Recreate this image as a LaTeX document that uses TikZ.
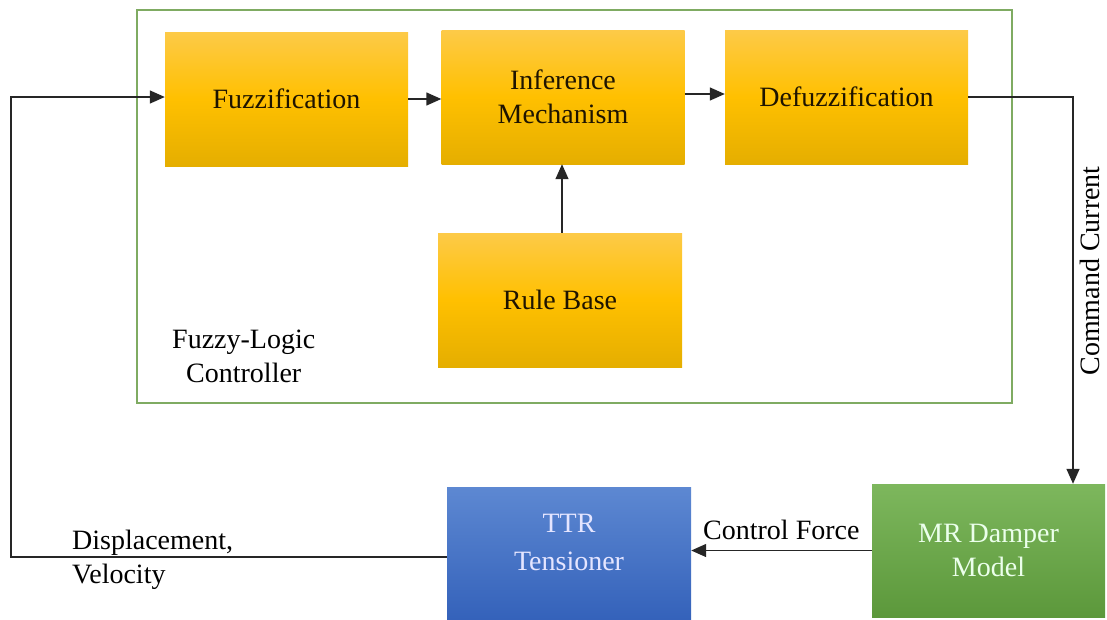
\documentclass[tikz,border=0pt]{standalone}
\usepackage{fontspec}
\setmainfont{Liberation Serif}
\usetikzlibrary{arrows.meta}
\definecolor{ytop}{HTML}{FDCA48}
\definecolor{ymid}{HTML}{FFC000}
\definecolor{ybot}{HTML}{E5AE00}
\definecolor{btop}{HTML}{5D88D2}
\definecolor{bbot}{HTML}{2F5DB7}
\definecolor{gtop}{HTML}{7DB75D}
\definecolor{gbot}{HTML}{5C983B}
\definecolor{frame}{HTML}{7FAB62}
\definecolor{ink}{HTML}{1E1400}
\tikzset{
  lbl/.style={font=\fontsize{28}{34}\selectfont, align=center},
  yblock/.style={lbl, text=ink, minimum width=243pt, minimum height=134pt,
    top color=ytop, bottom color=ybot, middle color=ymid, inner sep=0pt},
  bblock/.style={minimum width=244pt, minimum height=150pt,
    top color=btop, bottom color=bbot, inner sep=0pt},
  gblock/.style={lbl, text=white!92!green, minimum width=233pt, minimum height=133pt,
    top color=gtop, bottom color=gbot, inner sep=0pt},
  wire/.style={line width=1.4pt, draw=black!85},
  arr/.style={wire, -{Triangle[length=15pt,width=13pt]}},
}
\begin{document}
\begin{tikzpicture}[x=1pt,y=-1pt]
  \useasboundingbox (0,0) rectangle (1107,619);
  % controller frame
  \node[draw=frame, line width=2.4pt, minimum width=875pt, minimum height=393pt, inner sep=0pt]
    (flc) at (574.5,206.5) {};
  % fuzzy blocks
  \node[yblock] (fuzz) at (286.5,99) {Fuzzification};
  \node[yblock] (inf) at (563,97) {Inference\\Mechanism};
  \node[yblock] (defuzz) at (846.5,97) {Defuzzification};
  \node[yblock, minimum width=244pt] (rule) at (560,300) {Rule Base};
  \node[lbl, anchor=north west, inner sep=0pt] (flctext) at (172,330) {Fuzzy-Logic\\Controller};
  % plant side
  \node[bblock] (ttr) at (569,562) {};
  \node[lbl, text=white!90!blue, inner sep=0pt, font=\fontsize{28}{38}\selectfont] (ttrtext) at (569,542) {TTR\\Tensioner};
  \node[gblock] (mr) at (988.5,550.5) {MR Damper\\Model};
  % signal routing
  \coordinate (cc) at (1073,97);
  \coordinate (fbl) at (11,557);
  \coordinate (fbt) at (11,97);
  \draw[arr] (fuzz.east) -- (fuzz.east -| inf.west);
  \draw[arr] ([yshift=3pt]inf.east) -- ([yshift=3pt]inf.east -| defuzz.west);
  \draw[arr] (rule.north -| 562,0) -- (inf.south -| 562,0);
  \draw[arr] (defuzz.east) -- (cc) -- (cc |- mr.north);
  \draw[arr] (mr.west) -- (mr.west -| ttr.east);
  \draw[arr] (ttr.west |- fbl) -- (fbl) -- (fbt) -- (fbt -| fuzz.west);
  % signal labels
  \node[lbl, rotate=90] (cmd) at (1090,271) {Command Current};
  \node[lbl, anchor=south west, inner sep=0pt] (cf) at (703,540) {Control Force};
  \node[lbl, anchor=north west, align=left, inner sep=0pt] (dv) at (72,530) {Displacement,\\Velocity};
\end{tikzpicture}
\end{document}
